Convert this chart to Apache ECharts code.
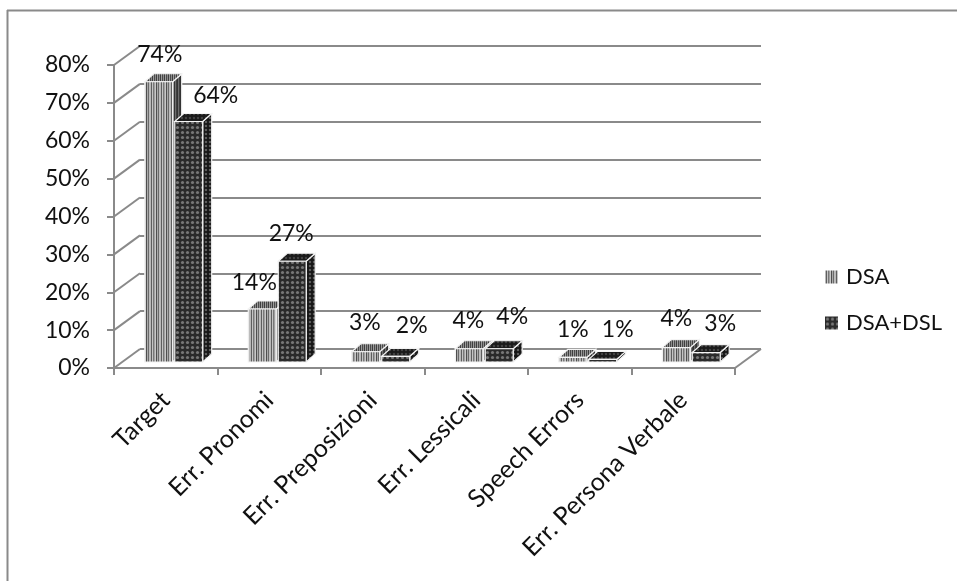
<!DOCTYPE html>
<html><head><meta charset="utf-8">
<style>html,body{margin:0;padding:0;background:#fff}#c{width:957px;height:581px}</style>
<script src="https://cdn.jsdelivr.net/npm/echarts@6/dist/echarts.min.js"></script>
</head><body><div id="c"></div>
<script>
const categories = ['Target','Err. Pronomi','Err. Preposizioni','Err. Lessicali','Speech Errors','Err. Persona Verbale'];
const dsa = [74, 14, 2.7, 3.5, 1.2, 3.8];
const dsaDsl = [63.5, 26.6, 1.5, 3.5, 0.7, 2.5];
const seriesNames = ['DSA', 'DSA+DSL'];
const yTicks = [0, 10, 20, 30, 40, 50, 60, 70, 80];

// layout/style constants
const FONT = 'Lato, "Open Sans", sans-serif';
const WALL = [26, -19], DEPTH = [9, -8], BASE = [8, -6];
const GRAY = '#8a8a8a';
const labelDx = [[1, -8, -1, -1, 0, 0], [27, -1, 16, 13, 15, 14]];
const labelDy = [[-27, -26, -29, -28, -28, -29], [-26, -28, -31, -32, -30, -29]];

function pattern(w, h, draw) {
  const c = document.createElement('canvas'); c.width = w; c.height = h;
  draw(c.getContext('2d')); return { image: c, repeat: 'repeat' };
}
function stripes(cols) {
  return pattern(cols.length, 4, g => cols.forEach((k, i) => { g.fillStyle = k; g.fillRect(i, 0, 1, 4); }));
}
function dots(size, bg, fg) {
  return pattern(size, size, g => { g.fillStyle = bg; g.fillRect(0, 0, size, size); g.fillStyle = fg;
    g.beginPath(); g.arc(size / 2, size / 2, size * 0.32, 0, Math.PI * 2); g.fill(); });
}
const styles = [
  { front: stripes(['#b8b8b8', '#5e5e5e', '#c4c4c4', '#777777', '#a0a0a0', '#c8c8c8', '#4e4e4e', '#aaaaaa', '#6a6a6a', '#bcbcbc']),
    top: stripes(['#3e3e3e', '#9c9c9c', '#4a4a4a', '#8c8c8c']),
    side: stripes(['#333333', '#6e6e6e', '#404040']) },
  { front: dots(5, '#2a2a2a', '#787878'),
    top: dots(4, '#1a1a1a', '#444444'),
    side: dots(4, '#161616', '#5e5e5e') }
];

function barRenderer(si) {
  return function (params, api) {
    const cat = api.value(0), v = api.value(1);
    const p = api.coord([cat, v]), p0 = api.coord([cat, 0]);
    const band = api.size([1, 0])[0];
    const w = band * 0.27, gap = 2;
    const cx = p[0] + BASE[0];
    const x0 = si === 0 ? cx - gap / 2 - w : cx + gap / 2, x1 = x0 + w;
    const yb = p0[1] + BASE[1], yt = p[1] + BASE[1];
    const [dx, dy] = DEPTH;
    const s = styles[si];
    const line = { stroke: '#f4f4f4', lineWidth: 1.2 };
    return { type: 'group', children: [
      { type: 'polygon', shape: { points: [[x1, yt], [x1 + dx, yt + dy], [x1 + dx, yb + dy], [x1, yb]] }, style: { fill: s.side, ...line } },
      { type: 'polygon', shape: { points: [[x0, yt], [x0 + dx, yt + dy], [x1 + dx, yt + dy], [x1, yt]] }, style: { fill: s.top, ...line } },
      { type: 'rect', shape: { x: x0, y: yt, width: w, height: yb - yt }, style: { fill: s.front, ...line } },
      { type: 'text', z2: 50, style: { text: Math.round(v) + '%', x: (x0 + x1) / 2 + labelDx[si][cat], y: yt + labelDy[si][cat],
          align: 'center', verticalAlign: 'middle', font: '23px ' + FONT, fill: '#111' } }
    ] };
  };
}

const chart = echarts.init(document.getElementById('c'), null, { renderer: 'canvas' });
chart.setOption({
  animation: false,
  backgroundColor: '#fff',
  graphic: [
    { type: 'line', shape: { x1: 7.5, y1: 10, x2: 7.5, y2: 581 }, style: { stroke: GRAY, lineWidth: 2 } },
    { type: 'line', shape: { x1: 7, y1: 10.5, x2: 957, y2: 10.5 }, style: { stroke: GRAY, lineWidth: 2 } }
  ],
  legend: {
    orient: 'vertical', left: 820, top: 261, itemGap: 24, itemWidth: 13, itemHeight: 13,
    textStyle: { fontFamily: FONT, fontSize: 22, color: '#111', padding: [0, 0, 0, 3] },
    data: seriesNames.map((n, i) => ({ name: n, icon: 'rect', itemStyle: { color: styles[i].front, borderWidth: 0 } }))
  },
  grid: [
    { left: 114, top: 65, width: 621, height: 303 },
    { left: 140, top: 46, width: 621, height: 303 }
  ],
  xAxis: [
    { type: 'category', gridIndex: 0, data: categories,
      axisLine: { show: true, lineStyle: { color: GRAY, width: 2 } },
      axisTick: { show: true, length: 7, lineStyle: { color: GRAY, width: 2 } },
      axisLabel: { rotate: 45, interval: 0, margin: 28, fontFamily: FONT, fontSize: 25, color: '#111' } },
    { type: 'category', gridIndex: 1, data: categories, show: false }
  ],
  yAxis: [
    { type: 'value', gridIndex: 0, min: 0, max: 80, interval: 10,
      axisLine: { show: true, lineStyle: { color: GRAY, width: 2 } },
      axisTick: { show: true, length: 7, lineStyle: { color: GRAY, width: 2 } },
      splitLine: { show: false },
      axisLabel: { formatter: '{value}%', margin: 24, padding: [4, 0, 0, 0], fontFamily: FONT, fontSize: 23, color: '#111' } },
    { type: 'value', gridIndex: 1, min: 0, max: 80, interval: 10,
      axisLine: { show: false }, axisTick: { show: false }, axisLabel: { show: false },
      splitLine: { show: true, lineStyle: { color: GRAY, width: 2 } } }
  ],
  series: [
    { type: 'custom', name: 'wall', xAxisIndex: 0, yAxisIndex: 0, silent: true, z: 1,
      data: yTicks.map(t => [0, t]), encode: { x: 0, y: 1 },
      renderItem(params, api) {
        const left = params.coordSys.x, y = api.coord([0, api.value(1)])[1];
        return { type: 'line', shape: { x1: left, y1: y, x2: left + WALL[0], y2: y + WALL[1] }, style: { stroke: GRAY, lineWidth: 2 } };
      } },
    { type: 'custom', name: 'floor', xAxisIndex: 0, yAxisIndex: 0, silent: true, z: 1,
      data: [[0, 0]], encode: { x: 0, y: 1 },
      renderItem(params, api) {
        const right = params.coordSys.x + params.coordSys.width, y = api.coord([0, 0])[1];
        return { type: 'line', shape: { x1: right, y1: y, x2: right + WALL[0], y2: y + WALL[1] }, style: { stroke: GRAY, lineWidth: 2 } };
      } },
    ...[dsa, dsaDsl].map((vals, si) => ({
      type: 'custom', name: seriesNames[si], xAxisIndex: 0, yAxisIndex: 0, z: 5 + si,
      itemStyle: { color: styles[si].front },
      data: vals.map((v, i) => [i, v]), encode: { x: 0, y: 1 },
      renderItem: barRenderer(si)
    }))
  ]
});
</script></body></html>
